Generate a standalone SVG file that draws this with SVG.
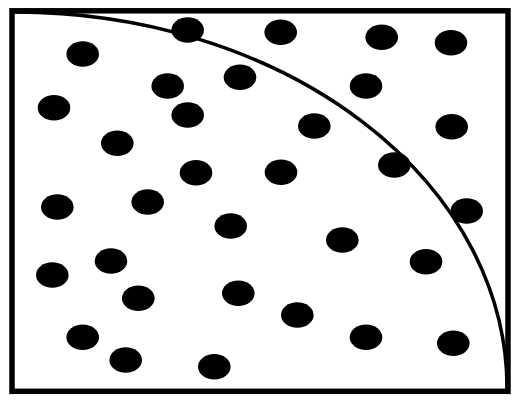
<svg xmlns="http://www.w3.org/2000/svg" width="520" height="401" viewBox="0 0 520 401">
<style>
.d{fill:#000}
</style>
<defs><ellipse id="dot" rx="16.3" ry="12.8" class="d"/></defs>
<rect x="0" y="0" width="520" height="401" fill="#fff"/>
<rect x="12" y="10.8" width="496" height="380.5" fill="none" stroke="#000" stroke-width="5.5"/>
<path d="M 15 12 A 492 376 0 0 1 507 388" fill="none" stroke="#000" stroke-width="3.5"/>
<g id="dots">
<use href="#dot" x="82.7" y="54"/>
<use href="#dot" x="187.7" y="30"/>
<use href="#dot" x="280.7" y="32.3"/>
<use href="#dot" x="381.7" y="37.3"/>
<use href="#dot" x="451" y="42.7"/>
<use href="#dot" x="167.7" y="86"/>
<use href="#dot" x="240" y="77.3"/>
<use href="#dot" x="366" y="86"/>
<use href="#dot" x="54" y="107.7"/>
<use href="#dot" x="187.7" y="115"/>
<use href="#dot" x="314.3" y="126"/>
<use href="#dot" x="451.7" y="126.7"/>
<use href="#dot" x="117.3" y="143.3"/>
<use href="#dot" x="196" y="172.7"/>
<use href="#dot" x="281" y="172.3"/>
<use href="#dot" x="394.3" y="165"/>
<use href="#dot" x="57.3" y="207"/>
<use href="#dot" x="147.7" y="202"/>
<use href="#dot" x="466.7" y="211"/>
<use href="#dot" x="230.7" y="226"/>
<use href="#dot" x="342.3" y="240"/>
<use href="#dot" x="111" y="261"/>
<use href="#dot" x="426" y="261.7"/>
<use href="#dot" x="52.3" y="275"/>
<use href="#dot" x="138.3" y="298.3"/>
<use href="#dot" x="238.3" y="293.3"/>
<use href="#dot" x="297.3" y="315"/>
<use href="#dot" x="82.7" y="337.3"/>
<use href="#dot" x="366" y="337.3"/>
<use href="#dot" x="453.3" y="343.3"/>
<use href="#dot" x="125.7" y="360"/>
<use href="#dot" x="214.3" y="366.7"/>
</g>
</svg>
